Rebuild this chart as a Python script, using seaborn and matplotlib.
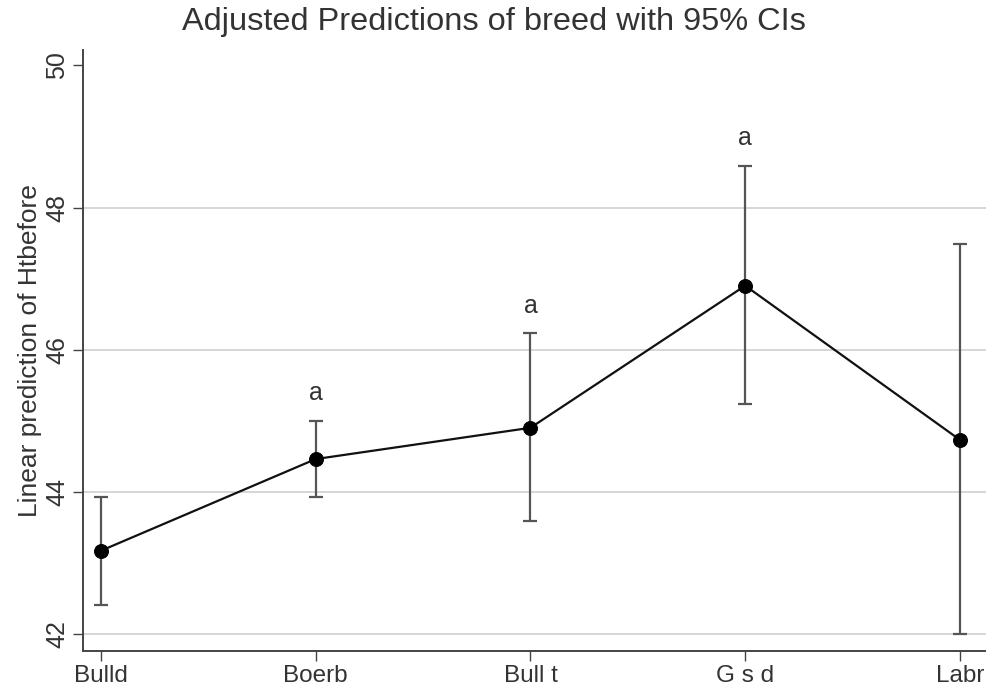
import matplotlib
matplotlib.use("Agg")
import matplotlib.pyplot as plt
import seaborn as sns
import numpy as np
import pandas as pd

breeds = ["Bulld", "Boerb", "Bull t", "G s d", "Labr"]
means = [43.17, 44.46, 44.90, 46.90, 44.73]
ci_low = [42.41, 43.92, 43.59, 45.24, 42.00]
ci_high = [43.93, 45.00, 46.23, 48.59, 47.49]
letters = ["", "a", "a", "a", ""]
yticks = [42, 44, 46, 48, 50]

sns.set_theme(style="white")
plt.rcParams['font.family'] = ['Liberation Sans', 'DejaVu Sans']

fig = plt.figure(figsize=(9.87, 6.91), dpi=100)
ax = fig.add_axes([0.084, 0.058, 0.916, 0.870])

pos = np.arange(len(breeds))
df = pd.DataFrame({"pos": pos, "mean": means})

for y in [42, 44, 46, 48]:
    ax.axhline(y, color="#cfcfcf", lw=1.2, zorder=0)

lo = np.array(means) - np.array(ci_low)
hi = np.array(ci_high) - np.array(means)
ax.errorbar(pos, means, yerr=[lo, hi], fmt="none", ecolor="#555555",
            elinewidth=1.6, capsize=5, capthick=1.6, zorder=2)
sns.lineplot(data=df, x="pos", y="mean", ax=ax, color="#111111", lw=1.6,
             marker="o", markersize=10, markeredgecolor="black",
             markerfacecolor="black", zorder=3)

for p, top, t in zip(pos, ci_high, letters):
    if t:
        ax.text(p, top + 0.22, t, ha="center", va="bottom", fontsize=18, color="#333333")

ax.set_xlim(-0.084, 4.126)
ax.set_ylim(41.76, 50.22)
ax.set_xticks(pos)
ax.set_xticklabels(breeds, fontsize=17.5, color="#333333")
ax.set_yticks(yticks)
ax.set_yticklabels([str(v) for v in yticks], rotation=90, va="center", fontsize=18, color="#333333")
ax.tick_params(axis="both", which="both", length=7, width=1, color="#444444",
               bottom=True, left=True, pad=3)
ax.set_xlabel("")
ax.set_ylabel("Linear prediction of Htbefore", fontsize=19, labelpad=2, color="#333333")
fig.text(0.5, 1 - 22 / 691, "Adjusted Predictions of breed with 95% CIs",
         fontsize=23.4, ha="center", va="center", color="#333333")

for s in ["top", "right"]:
    ax.spines[s].set_visible(False)
for s in ["left", "bottom"]:
    ax.spines[s].set_color("#444444")
    ax.spines[s].set_linewidth(1.4)

fig.savefig("out.png", dpi=100)
